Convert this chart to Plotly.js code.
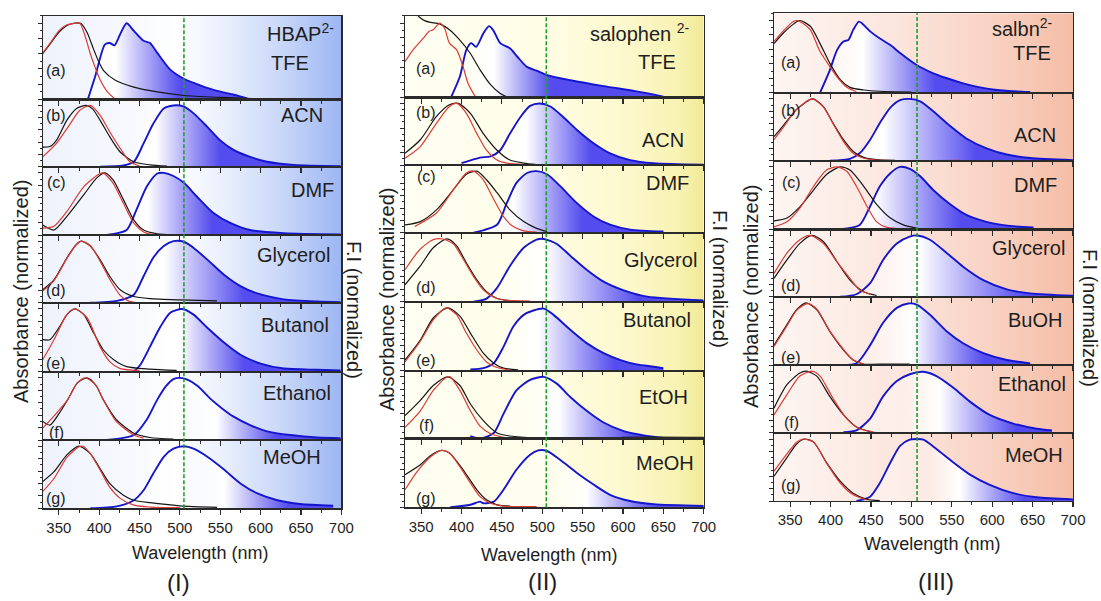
<!DOCTYPE html>
<html><head><meta charset="utf-8">
<script src="https://cdn.plot.ly/plotly-3.0.1.min.js"></script>
<style>html,body{margin:0;padding:0;background:#fff}#chart{width:1101px;height:601px}</style>
</head><body><div id="chart"></div>
<script>
// ---------------- DATA ----------------
const compounds = ['HBAP<sup>2-</sup>', 'salophen <sup>2-</sup>', 'salbn<sup>2-</sup>'];
const panelTags = ['(I)', '(II)', '(III)'];
const rowLetters = ['(a)', '(b)', '(c)', '(d)', '(e)', '(f)', '(g)'];
const solventsI = ['TFE', 'ACN', 'DMF', 'Glycerol', 'Butanol', 'Ethanol', 'MeOH'];
const solventsII = ['TFE', 'ACN', 'DMF', 'Glycerol', 'Butanol', 'EtOH', 'MeOH'];
const solventsIII = ['TFE', 'ACN', 'DMF', 'Glycerol', 'BuOH', 'Ethanol', 'MeOH'];
const xTicks = [350, 400, 450, 500, 550, 600, 650, 700];
const refWavelength = [505, 505, 507];

// Panel I (HBAP2-) : black absorbance
const blackI_x = [
  [330,340,350,360,368,377,385,393,400,406,420,443,470,505,550,590],
  [330,339,347,360,372,384,392,401,413,426,443,463,484],
  [330,344,360,381,397,407,417,430,443,455,472,492],
  [330,344,360,372,378,389,401,413,426,443,463,500,546],
  [330,339,351,360,370,381,393,405,418,434,463,496],
  [330,339,350,361,373,385,396,405,421,443,463,492],
  [330,344,360,375,389,401,413,430,443,463,500,546]];
const blackI_y = [
  [0.6,0.74,0.88,0.97,1.0,1.0,0.88,0.66,0.48,0.37,0.25,0.16,0.1,0.05,0.025,0.01],
  [0.32,0.33,0.43,0.76,0.95,1.0,0.94,0.76,0.49,0.24,0.08,0.03,0.01],
  [0.16,0.08,0.3,0.65,0.92,1.0,0.89,0.57,0.24,0.08,0.02,0.005],
  [0.21,0.37,0.73,0.95,1.0,0.92,0.7,0.43,0.21,0.1,0.065,0.045,0.03],
  [0.51,0.51,0.72,0.91,1.0,0.91,0.62,0.35,0.19,0.08,0.04,0.02],
  [0.3,0.24,0.42,0.65,0.92,1.0,0.88,0.65,0.33,0.11,0.04,0.015],
  [0.43,0.59,0.86,1.0,0.88,0.64,0.4,0.21,0.13,0.09,0.04,0.015]];
// Panel I : red absorbance
const redI_x = [
  [330,340,350,360,370,376,382,389,395,401,410,420],
  [330,347,363,376,389,401,413,426,438,450],
  [330,344,360,381,401,405,417,430,443,455,465],
  [330,344,360,372,378,389,401,413,426,436,445],
  [330,344,360,370,385,401,413,426,450],
  [330,345,361,373,383,396,405,421,443,455],
  [330,344,360,375,380,389,401,413,426,443,463,500]];
const redI_y = [
  [0.61,0.75,0.9,0.98,1.0,1.0,0.85,0.6,0.42,0.26,0.1,0.0],
  [0.16,0.38,0.68,0.92,1.0,0.84,0.57,0.3,0.08,0.01],
  [0.11,0.14,0.38,0.78,0.99,1.0,0.84,0.51,0.19,0.05,0.01],
  [0.19,0.36,0.72,0.95,1.0,0.93,0.68,0.38,0.12,0.03,0.0],
  [0.19,0.51,0.91,1.0,0.86,0.4,0.16,0.05,0.02],
  [0.19,0.4,0.65,0.92,1.0,0.88,0.65,0.3,0.08,0.03],
  [0.27,0.48,0.82,0.99,1.0,0.88,0.62,0.34,0.16,0.05,0.02,0.01]];
// Panel I : blue emission
const blueI_x = [
  [386,395,407,413,419,427,434,443,455,463,472,488,505,526,546,567,584],
  [401,430,443,455,467,480,492,505,517,534,550,567,587,608,641,699],
  [409,434,446,459,472,480,492,505,521,542,563,587,629,699],
  [389,422,443,455,467,480,492,505,517,534,555,575,596,629,670,699],
  [443,451,463,476,488,503,517,534,555,575,600,629,670,699],
  [409,443,459,472,483,492,500,510,522,539,553,566,587,608,637,670,699],
  [389,422,443,455,467,480,492,505,517,534,555,575,596,621,649,690]];
const blueI_y = [
  [0,0.3,0.72,0.74,0.71,0.88,1.0,0.9,0.77,0.74,0.61,0.39,0.27,0.18,0.11,0.06,0.01],
  [0,0.02,0.08,0.38,0.7,0.95,1.0,0.98,0.87,0.65,0.43,0.27,0.16,0.08,0.03,0.01],
  [0,0.08,0.4,0.78,0.99,1.0,0.95,0.84,0.62,0.35,0.19,0.08,0.03,0.01],
  [0,0.03,0.13,0.43,0.73,0.92,1.0,0.99,0.89,0.7,0.45,0.27,0.15,0.055,0.02,0.01],
  [0,0.11,0.4,0.72,0.94,1.0,0.91,0.7,0.46,0.27,0.13,0.05,0.03,0.02],
  [0,0.08,0.33,0.65,0.87,0.98,1.0,0.97,0.87,0.65,0.5,0.38,0.24,0.14,0.08,0.04,0.03],
  [0,0.03,0.13,0.29,0.56,0.83,0.96,1.0,0.96,0.83,0.62,0.4,0.24,0.13,0.07,0.04]];

// Panel II (salophen2-)
const blackII_x = [
  [330,340,348,355,362,373,385,398,411,423,436,448,460,469,481,506,518,568,600],
  [330,349,369,385,396,411,427,444,460,477,493],
  [330,349,369,390,406,419,431,444,460,477,493,506],
  [330,349,365,382,394,406,419,431,444,460],
  [330,349,365,383,398,411,427,440,452,470],
  [330,349,365,383,398,411,427,444,460,493,590,600,700],
  [330,349,361,375,385,402,419,431,444,460]];
const blackII_y = [
  [1.3,1.17,1.08,1.03,1.01,0.99,0.91,0.77,0.59,0.37,0.17,0.05,-0.01,-0.03,-0.02,0.0,0.01,0.0,0.0],
  [0.19,0.41,0.79,0.98,1.0,0.84,0.51,0.24,0.08,0.03,0.005],
  [0.126,0.18,0.37,0.7,0.95,1.0,0.86,0.65,0.37,0.18,0.07,0.016],
  [0.27,0.57,0.86,1.0,0.89,0.62,0.35,0.16,0.05,0.016],
  [0.17,0.49,0.84,1.0,0.87,0.6,0.28,0.12,0.04,0.015],
  [0.37,0.62,0.86,1.0,0.86,0.56,0.29,0.09,0.04,0.01,0.005,0.02,0.02],
  [0.52,0.68,0.82,0.91,0.87,0.6,0.28,0.12,0.04,0.02]];
const redII_x = [
  [330,340,353,360,365,373,379,385,394,402,408,417],
  [330,349,369,385,394,406,419,431,444,456,477],
  [342,369,390,406,415,427,440,452,464,477,493],
  [330,349,365,377,390,402,415,427,440,452,485],
  [330,349,365,381,394,406,419,431,444,460],
  [330,349,365,381,386,398,411,423,436,452],
  [330,345,361,375,385,398,411,423,436,452,493]];
const redII_y = [
  [0.48,0.64,0.8,0.89,0.91,1.0,0.93,0.73,0.64,0.41,0.19,0.01],
  [0.11,0.3,0.68,0.95,1.0,0.84,0.51,0.24,0.08,0.03,0.01],
  [0.1,0.32,0.7,0.97,1.0,0.86,0.54,0.26,0.1,0.03,0.01],
  [0.51,0.84,0.99,1.0,0.92,0.68,0.4,0.19,0.07,0.027,0.01],
  [0.14,0.47,0.81,1.0,0.89,0.6,0.33,0.14,0.05,0.01],
  [0.18,0.45,0.78,0.99,1.0,0.78,0.45,0.2,0.077,0.02],
  [0.28,0.57,0.8,0.91,0.87,0.65,0.39,0.17,0.064,0.02,0.01]];
const blueII_x = [
  [387,398,406,412,418,427,434,439,448,460,469,481,493,506,535,576,617,650],
  [400,423,436,448,460,473,485,497,510,526,543,564,584,609,638,700],
  [415,444,456,468,481,493,506,522,543,564,584,609,650],
  [415,431,444,460,477,493,502,518,535,555,576,601,630,700],
  [411,427,440,452,464,477,489,502,514,535,555,576,597,617,638,650],
  [411,423,440,452,468,485,502,518,535,555,576,601,626,650],
  [386,411,423,427,440,452,468,485,495,506,522,543,564,584,609,638,700]];
const blueII_y = [
  [0,0.28,0.64,0.73,0.68,0.86,0.96,0.91,0.73,0.66,0.55,0.41,0.36,0.3,0.23,0.15,0.08,0.01],
  [0.03,0.12,0.14,0.24,0.51,0.78,0.96,1.0,0.95,0.78,0.57,0.35,0.19,0.08,0.03,0.005],
  [0,0.13,0.48,0.81,0.97,1.0,0.95,0.76,0.48,0.26,0.13,0.05,0.02],
  [0,0.05,0.22,0.57,0.86,0.99,1.0,0.92,0.73,0.51,0.32,0.18,0.08,0.02],
  [0.02,0.04,0.12,0.38,0.7,0.89,0.96,0.99,0.89,0.65,0.44,0.28,0.17,0.1,0.064,0.04],
  [0.04,0.0,0.09,0.4,0.78,0.95,1.0,0.89,0.67,0.45,0.26,0.12,0.05,0.01],
  [0,0.04,0.09,0.064,0.09,0.28,0.6,0.84,0.91,0.9,0.76,0.55,0.36,0.2,0.1,0.05,0.02]];

// Panel III (salbn2-)
const blackIII_x = [
  [330,341,354,362,375,387,399,412,424,441,461,500],
  [330,341,358,375,379,391,403,416,428,441,457,480],
  [330,346,362,379,395,412,424,441,457,474,490,507],
  [330,346,362,377,391,408,424,441,457],
  [330,346,358,370,383,399,416,428,441,470,498],
  [330,346,362,370,383,399,416,432,449],
  [330,346,358,368,379,395,412,428,445,461]];
const blackIII_y = [
  [0.68,0.82,0.95,1.0,0.92,0.68,0.41,0.18,0.074,0.037,0.02,0.01],
  [0.39,0.56,0.83,0.99,1.0,0.88,0.61,0.34,0.15,0.054,0.016,0.005],
  [0.135,0.18,0.36,0.63,0.88,1.0,0.95,0.69,0.4,0.18,0.07,0.016],
  [0.3,0.6,0.87,1.0,0.9,0.57,0.27,0.08,0.02],
  [0.32,0.65,0.89,1.0,0.89,0.54,0.24,0.08,0.016,0.015,0.015],
  [0.4,0.78,0.97,1.0,0.92,0.59,0.29,0.094,0.02],
  [0.4,0.7,0.92,1.0,0.95,0.62,0.32,0.126,0.027,0.005]];
const redIII_x = [
  [330,341,354,358,366,375,387,395,408,420,432],
  [330,341,358,377,391,403,416,428,441,457,560],
  [330,346,362,379,395,408,420,432,445,457,470,490],
  [330,346,362,375,391,408,424,436,449],
  [330,346,358,372,383,399,416,428,441],
  [330,346,362,377,387,403,420,436,453],
  [330,346,358,366,379,395,412,428,445]];
const redIII_y = [
  [0.71,0.85,0.985,1.0,0.96,0.87,0.57,0.43,0.22,0.074,0.014],
  [0.34,0.53,0.83,1.0,0.87,0.6,0.31,0.12,0.04,0.01,0.005],
  [0.04,0.12,0.34,0.69,0.95,1.0,0.93,0.69,0.37,0.12,0.03,0.005],
  [0.38,0.71,0.93,1.0,0.87,0.57,0.3,0.11,0.04],
  [0.3,0.63,0.88,0.99,0.9,0.55,0.25,0.08,0.016],
  [0.29,0.62,0.92,1.0,0.92,0.56,0.23,0.066,0.015],
  [0.48,0.76,0.95,1.0,0.95,0.61,0.29,0.1,0.016]];
const blueIII_x = [
  [387,399,408,416,422,428,435,439,449,461,474,486,507,523,544,564,585,606,626,647],
  [399,424,436,449,461,474,486,498,511,527,548,568,593,618,647,700],
  [412,436,449,461,474,486,498,511,527,548,568,593,622,651],
  [412,432,449,465,482,498,507,523,544,564,589,618,647,700],
  [408,432,449,465,482,496,507,523,544,564,589,618,647],
  [416,432,449,465,482,498,515,531,552,572,597,626,655,674],
  [432,449,461,474,486,498,507,515,531,552,572,597,626,655,700]];
const blueIII_y = [
  [0,0.31,0.59,0.71,0.73,0.87,0.985,0.96,0.85,0.75,0.66,0.55,0.38,0.29,0.2,0.13,0.074,0.037,0.02,0.01],
  [0,0.03,0.12,0.34,0.61,0.86,0.98,1.0,0.96,0.8,0.56,0.36,0.2,0.1,0.044,0.01],
  [0,0.07,0.37,0.69,0.9,1.0,0.97,0.85,0.63,0.4,0.23,0.12,0.054,0.03],
  [0,0.04,0.22,0.6,0.87,0.98,1.0,0.93,0.71,0.49,0.27,0.12,0.055,0.016],
  [0,0.027,0.32,0.68,0.92,0.99,0.97,0.81,0.54,0.35,0.19,0.08,0.027],
  [0.01,0.04,0.23,0.59,0.84,0.95,0.99,0.92,0.73,0.51,0.29,0.15,0.066,0.04],
  [0,0.07,0.29,0.62,0.89,0.99,1.0,0.99,0.84,0.62,0.43,0.26,0.126,0.06,0.027]];

// ---------------- STYLE / LAYOUT ----------------
const W = 1101, H = 601;
const fx = px => px / W, fy = py => 1 - py / H;
const panelXpx = [[42.7, 341.3], [405, 703.7], [774, 1073]];
const rowEdgesPx = [
  [15.7, 99.3, 166.7, 235, 302.7, 371.7, 440, 508.3],
  [15.7, 97.3, 165, 232.7, 301.7, 370.7, 438.5, 507.3],
  [13.3, 92.7, 160.7, 229.3, 296.7, 365, 432.8, 501]];
// where the emission fill turns white -> full blue (nm)
const fillWhite = [[420,470,460,480,500,545,555],[440,480,465,505,495,520,555],[440,465,455,510,500,535,560]];
const fillFull  = [[500,550,540,580,580,620,635],[510,560,550,620,590,610,640],[530,580,560,640,590,630,640]];
const bgStops = [
  [[0,'#eef2fb'],[0.3,'#f7f9fe'],[0.45,'#ffffff'],[0.6,'#eaf0fd'],[0.8,'#c9d7f8'],[1,'#9db6f3']],
  [[0,'#fffff3'],[0.45,'#fffde6'],[0.75,'#fcf8cc'],[0.92,'#f8f2b2'],[1,'#f1e996']],
  [[0,'#fdf5f2'],[0.4,'#fce6de'],[0.7,'#f9d4c5'],[1,'#f5bda6']]];

const blacks = [[blackI_x, blackI_y], [blackII_x, blackII_y], [blackIII_x, blackIII_y]];
const reds = [[redI_x, redI_y], [redII_x, redII_y], [redIII_x, redIII_y]];
const blues = [[blueI_x, blueI_y], [blueII_x, blueII_y], [blueIII_x, blueIII_y]];
const solvents = [solventsI, solventsII, solventsIII];

const letterX = [56, 426, 791];
const letterY = [[70,115,183,290,363,432,498],[68,112,177,287,360,425,498],[62,110,183,285,357,422,486]];
const solvPos = [
  [[290,63],[302,115],[312,190],[293,255],[295,325],[297,393],[292,457]],
  [[657,62],[663,140],[667,183],[660,260],[657,320],[663,397],[665,463]],
  [[1032,53],[1035,135],[1035,185],[1028,248],[1035,320],[1032,384],[1034,455]]];
const compPos = [[300,33],[640,33],[1022,28]];
const absTitlePos = [[21,292],[387,300],[751,297]];
const fiTitlePos = [[354,310],[720,279],[1090,318]];
const waveTitlePos = [[200,553],[549,555],[932,544]];
const tagPos = [[178,582],[542,581],[936,581]];

const FONT = 'Liberation Sans, Arial, sans-serif';
const TXT = '#1e1e1e';
const traces = [];
const layout = {
  width: W, height: H, margin: {l:0, r:0, t:0, b:0},
  paper_bgcolor: '#ffffff', plot_bgcolor: 'rgba(0,0,0,0)',
  showlegend: false, font: {family: FONT, color: TXT, size: 14},
  annotations: [], shapes: [], images: []
};

for (let p = 0; p < 3; p++) {
  const [x0, x1] = panelXpx[p];
  const edges = rowEdgesPx[p];
  // background gradient image
  const stops = bgStops[p].map(s => `<stop offset='${s[0]}' stop-color='${s[1]}'/>`).join('');
  const svg = `<svg xmlns='http://www.w3.org/2000/svg' width='400' height='400' viewBox='0 0 400 400' preserveAspectRatio='none'><defs><linearGradient id='g' x1='0' y1='0' x2='1' y2='0'>${stops}</linearGradient></defs><rect x='0' y='0' width='400' height='400' fill='url(#g)'/></svg>`;
  layout.images.push({
    source: 'data:image/svg+xml;charset=utf-8,' + encodeURIComponent(svg),
    xref: 'paper', yref: 'paper', x: fx(x0), y: fy(edges[0]),
    sizex: fx(x1) - fx(x0), sizey: fy(edges[0]) - fy(edges[7]),
    xanchor: 'left', yanchor: 'top', sizing: 'stretch', layer: 'below'
  });

  for (let r = 0; r < 7; r++) {
    const i = p * 7 + r + 1;
    const xs = i === 1 ? '' : String(i);
    layout['xaxis' + xs] = {
      domain: [fx(x0), fx(x1)], range: [330, 700], anchor: 'y' + xs,
      showline: true, mirror: true, linecolor: '#2a2a2a', linewidth: 1.2,
      ticks: 'outside', ticklen: 5, tickwidth: 1.1, tickcolor: '#2a2a2a',
      tickmode: 'array', tickvals: xTicks, ticktext: xTicks.map(String),
      showticklabels: r === 6, tickfont: {size: 15, color: TXT, family: FONT},
      showgrid: false, zeroline: false, fixedrange: true,
      minor: {ticks: 'outside', ticklen: 3, tickwidth: 1, tickcolor: '#2a2a2a', dtick: 25, tick0: 325, showgrid: false}
    };
    layout['yaxis' + xs] = {
      domain: [fy(edges[r + 1]), fy(edges[r])], range: [0, 1.1], anchor: 'x' + xs,
      showline: true, mirror: true, linecolor: '#2a2a2a', linewidth: 1.2,
      ticks: 'outside', ticklen: 4, tickwidth: 1, tickcolor: '#2a2a2a', dtick: 0.2, tick0: 0,
      showticklabels: false, showgrid: false, zeroline: false, fixedrange: true,
      minor: {ticks: 'outside', ticklen: 2, tickwidth: 1, tickcolor: '#2a2a2a', dtick: 0.1, showgrid: false}
    };
    const xa = 'x' + xs, ya = 'y' + xs;
    const s = fillWhite[p][r], e = fillFull[p][r];
    const s0 = s - (e - s) * 0.5;
    traces.push({
      type: 'scatter', mode: 'lines', x: blues[p][0][r], y: blues[p][1][r], xaxis: xa, yaxis: ya,
      line: {color: '#1515cc', width: 1.9, shape: 'spline', smoothing: 0.7},
      fill: 'tozeroy',
      fillgradient: {type: 'horizontal', start: s0, stop: e,
        colorscale: [[0, 'rgba(255,255,255,0.35)'], [0.333, 'rgba(255,255,255,1)'], [1, 'rgba(84,76,238,1)']]},
      hoverinfo: 'skip'
    });
    traces.push({
      type: 'scatter', mode: 'lines', x: blacks[p][0][r], y: blacks[p][1][r], xaxis: xa, yaxis: ya,
      line: {color: '#151515', width: 1.2, shape: 'spline', smoothing: 0.7}, hoverinfo: 'skip'
    });
    traces.push({
      type: 'scatter', mode: 'lines', x: reds[p][0][r], y: reds[p][1][r], xaxis: xa, yaxis: ya,
      line: {color: '#dc3a34', width: 1.2, shape: 'spline', smoothing: 0.7}, hoverinfo: 'skip'
    });
    // labels
    layout.annotations.push({text: rowLetters[r], xref: 'paper', yref: 'paper', x: fx(letterX[p]), y: fy(letterY[p][r]),
      xanchor: 'center', yanchor: 'middle', showarrow: false, font: {size: 16, color: TXT}});
    layout.annotations.push({text: solvents[p][r], xref: 'paper', yref: 'paper', x: fx(solvPos[p][r][0]), y: fy(solvPos[p][r][1]),
      xanchor: 'center', yanchor: 'middle', showarrow: false, font: {size: 20, color: TXT}});
  }
  // green reference line
  const xref = p === 0 ? 'x' : 'x' + (p * 7 + 1);
  layout.shapes.push({type: 'line', xref: xref, yref: 'paper', x0: refWavelength[p], x1: refWavelength[p],
    y0: fy(edges[7]), y1: fy(edges[0]), line: {color: '#1f9e2c', width: 1.6, dash: '4px,2px'}, layer: 'above'});
  // titles
  layout.annotations.push({text: compounds[p], xref: 'paper', yref: 'paper', x: fx(compPos[p][0]), y: fy(compPos[p][1]),
    xanchor: 'center', yanchor: 'middle', showarrow: false, font: {size: 20, color: TXT}});
  layout.annotations.push({text: 'Absorbance (normalized)', xref: 'paper', yref: 'paper', x: fx(absTitlePos[p][0]), y: fy(absTitlePos[p][1]),
    xanchor: 'center', yanchor: 'middle', textangle: -90, showarrow: false, font: {size: 20, color: TXT}});
  layout.annotations.push({text: 'F.I (normalized)', xref: 'paper', yref: 'paper', x: fx(fiTitlePos[p][0]), y: fy(fiTitlePos[p][1]),
    xanchor: 'center', yanchor: 'middle', textangle: 90, showarrow: false, font: {size: 20, color: TXT}});
  layout.annotations.push({text: 'Wavelength (nm)', xref: 'paper', yref: 'paper', x: fx(waveTitlePos[p][0]), y: fy(waveTitlePos[p][1]),
    xanchor: 'center', yanchor: 'middle', showarrow: false, font: {size: 18, color: TXT}});
  layout.annotations.push({text: panelTags[p], xref: 'paper', yref: 'paper', x: fx(tagPos[p][0]), y: fy(tagPos[p][1]),
    xanchor: 'center', yanchor: 'middle', showarrow: false, font: {size: 24, color: TXT}});
}

Plotly.newPlot('chart', traces, layout, {displayModeBar: false, staticPlot: true});
</script>
</body></html>
